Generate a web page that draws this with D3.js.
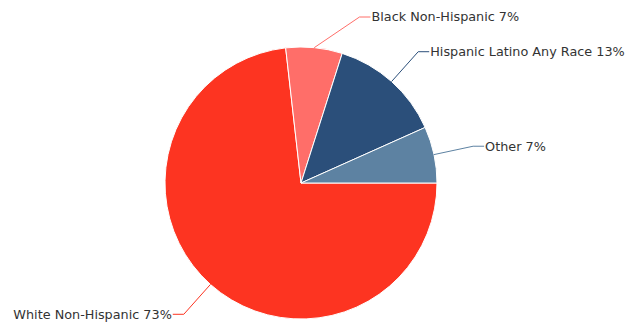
<!DOCTYPE html>
<meta charset="utf-8">
<style>
body { margin: 0; background: #fff; }
.label { font-family: "DejaVu Sans", Verdana, sans-serif; font-size: 12.8px; fill: #333; }
.connector { fill: none; stroke-width: 1px; }
</style>
<svg width="643" height="325"></svg>
<script src="https://cdn.jsdelivr.net/npm/d3@7"></script>
<script>

var categories = ["White Non-Hispanic", "Black Non-Hispanic", "Hispanic Latino Any Race", "Other"],
    values = [73.2, 6.7, 13.4, 6.7],
    labels = ["73%", "7%", "13%", "7%"],
    colors = ["#fd3421", "#ff6e69", "#2b4f7a", "#5d82a2"];

var svg = d3.select("svg"),
    cx = 301,
    cy = 183,
    radius = 136,
    g = svg.append("g").attr("transform", "translate(" + cx + "," + cy + ")");

var data = categories.map(function(c, i) {
  return {name: c, value: values[i], label: labels[i], color: colors[i]};
});

// starts at 3 o'clock, runs clockwise
var pie = d3.pie()
    .sort(null)
    .value(function(d) { return d.value; })
    .startAngle(Math.PI / 2)
    .endAngle(Math.PI / 2 + 2 * Math.PI);

var arc = d3.arc().innerRadius(0).outerRadius(radius);

var arcs = pie(data);

g.selectAll(".slice")
    .data(arcs)
  .enter().append("path")
    .attr("class", "slice")
    .attr("d", arc)
    .attr("fill", function(d) { return d.data.color; })
    .attr("stroke", "#fff")
    .attr("stroke-width", 1)
    .attr("stroke-linejoin", "round");

var labelR = radius + 40,
    crook = 11,
    minY = 17 - cy,
    maxY = 315 - cy;

arcs.forEach(function(d) {
  var a = (d.startAngle + d.endAngle) / 2,
      sx = Math.sin(a), sy = -Math.cos(a),
      right = sx >= 0,
      y = Math.max(minY, Math.min(maxY, sy * labelR)),
      ex = (right ? 1 : -1) * Math.sqrt(Math.max(0, labelR * labelR - y * y)),
      lx = ex + (right ? crook : -crook);

  g.append("path")
      .attr("class", "connector")
      .attr("stroke", d.data.color)
      .attr("d", "M" + (sx * radius) + "," + (sy * radius) + "L" + ex + "," + y + "L" + lx + "," + y);

  g.append("text")
      .attr("class", "label")
      .attr("x", lx + (right ? 1 : -1))
      .attr("y", y)
      .attr("dy", "0.35em")
      .attr("text-anchor", right ? "start" : "end")
      .text(d.data.name + " " + d.data.label);
});

</script>
